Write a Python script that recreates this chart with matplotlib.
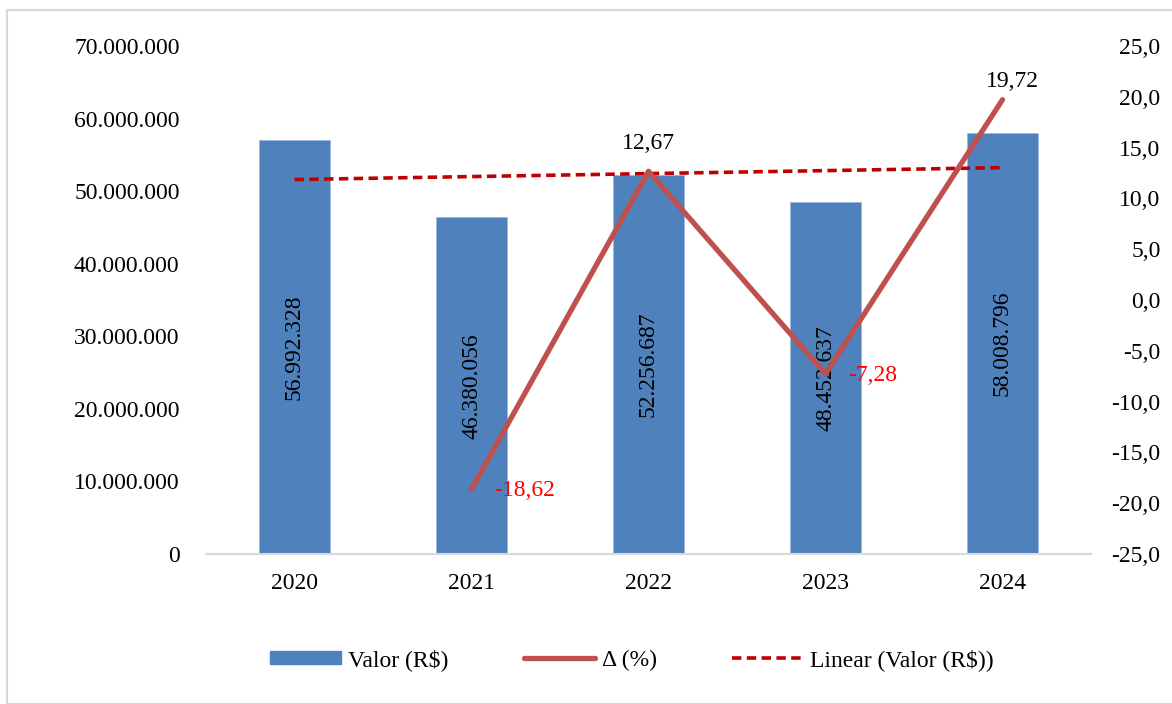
#! /usr/bin/env python3

import numpy as np
import matplotlib
matplotlib.use('Agg')
import matplotlib.pyplot as plt
from matplotlib.ticker import FuncFormatter
from matplotlib.patches import Rectangle


anos = ['2020', '2021', '2022', '2023', '2024']
valores = [56992328, 46380056, 52256687, 48452637, 58008796]
variacao = [np.nan, -18.62, 12.67, -7.28, 19.72]

BLUE = '#4F81BD'
RED = '#C0504D'
DARK_RED = '#C00000'


def br_int(v, pos=None):
    return '{:,.0f}'.format(v).replace(',', '.')


def br_dec(v, pos=None):
    return '{:.1f}'.format(v).replace('.', ',')


def main():
    plt.rcParams['font.family'] = ['Liberation Serif', 'DejaVu Serif']
    plt.rcParams['font.size'] = 17

    fig = plt.figure(figsize=(11.72, 7.04), dpi=100)
    fig.patches.append(Rectangle((7 / 1172, 0), 1.2, (704 - 10) / 704,
                                 transform=fig.transFigure, fill=False,
                                 edgecolor='#D9D9D9', lw=1.5))
    ax = fig.add_axes([206 / 1172, 1 - 554 / 704, 885 / 1172, 508 / 704])
    ax2 = ax.twinx()

    xs = np.arange(len(anos))
    ax.bar(xs, valores, width=0.4, color=BLUE, edgecolor='#9DB9DD',
           linewidth=0.6, zorder=2)
    for x, v in zip(xs, valores):
        ax.text(x, v / 2, br_int(v), rotation=90, ha='center', va='center',
                color='black', zorder=5)

    # linha de tendencia (regressao linear dos valores)
    coef = np.polyfit(xs, valores, 1)
    ax.plot(xs, np.polyval(coef, xs), ls=(0, (2.6, 1.5)), color=DARK_RED,
            lw=2.6, zorder=3, label='Linear (Valor (R$))')

    ax2.plot(xs, variacao, color=RED, lw=3.8, zorder=4, label='Δ (%)',
             solid_capstyle='round')
    for x, v in zip(xs, variacao):
        if np.isnan(v):
            continue
        txt = '{:.2f}'.format(v).replace('.', ',')
        if v < 0:
            ax2.annotate(txt, (x, v), xytext=(16, -1), textcoords='offset points',
                         ha='left', va='center', color='red')
        elif v > 15:
            ax2.annotate(txt, (x, v), xytext=(7, 13), textcoords='offset points',
                         ha='center', va='center', color='black')
        else:
            ax2.annotate(txt, (x, v), xytext=(0, 20), textcoords='offset points',
                         ha='center', va='center', color='black')

    ax.set_xlim(-0.5, len(anos) - 0.5)
    ax.set_ylim(0, 70000000)
    ax.set_yticks(np.arange(0, 70000001, 10000000))
    ax.yaxis.set_major_formatter(FuncFormatter(br_int))
    ax2.set_ylim(-25, 25)
    ax2.set_yticks(np.arange(-25, 26, 5))
    ax2.yaxis.set_major_formatter(FuncFormatter(br_dec))
    ax.set_xticks(xs)
    ax.set_xticklabels(anos)

    for a in (ax, ax2):
        for s in a.spines.values():
            s.set_visible(False)
        a.tick_params(length=0)
    ax.spines['bottom'].set_visible(True)
    ax.spines['bottom'].set_color('#D9D9D9')
    ax.spines['bottom'].set_linewidth(1.5)
    ax.tick_params(axis='y', pad=19)
    ax.tick_params(axis='x', pad=14)
    ax2.tick_params(axis='y', pad=50)
    for lbl in ax2.get_yticklabels():
        lbl.set_horizontalalignment('right')

    h1, l1 = ax.get_legend_handles_labels()
    h2, l2 = ax2.get_legend_handles_labels()
    bar_h = Rectangle((0, 0), 1, 1, color=BLUE)
    fig.legend([bar_h, h2[0], h1[0]], ['Valor (R$)', 'Δ (%)', 'Linear (Valor (R$))'],
               loc='center', bbox_to_anchor=(632 / 1172, 1 - 660 / 704), ncol=3,
               frameon=False, handlelength=3.0, handletextpad=0.3,
               columnspacing=3.2, handleheight=0.5)

    fig.savefig('out.png', dpi=100)


if __name__ == '__main__':
    main()
